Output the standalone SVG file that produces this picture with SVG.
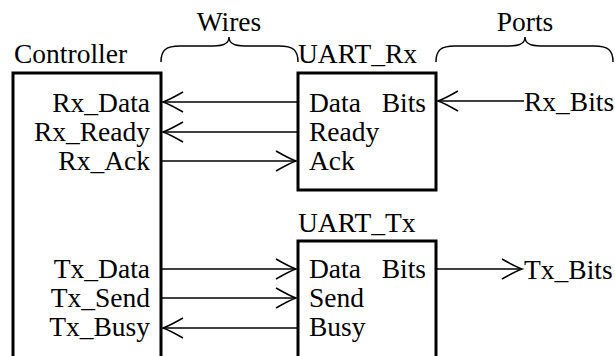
<svg xmlns="http://www.w3.org/2000/svg" width="615" height="356" viewBox="0 0 615 356">
<style>
text{font-family:"Liberation Serif","Times New Roman",serif;font-size:27.5px;fill:#000}
.end{text-anchor:end}
.mid{text-anchor:middle}
.box{fill:#fff;stroke:#000;stroke-width:3}
.wire{stroke:#000;stroke-width:1.5;fill:none}
.brace{stroke:#000;stroke-width:1.5;fill:none}
</style>
<defs>
<marker id="to" markerUnits="userSpaceOnUse" orient="auto" refX="0" refY="0" markerWidth="30" markerHeight="30" overflow="visible">
<path d="M-20,-10 Q-6,-2 0,0 Q-6,2 -20,10" fill="none" stroke="#000" stroke-width="1.5"/>
</marker>
</defs>
<g id="braces">
<path class="brace" d="M161,62 C161,50 166,46 180,46 L213,46 C225,46 229,43 229,37 C229,43 233,46 245,46 L279,46 C293,46 298,50 298,62"/>
<text class="mid" x="229" y="31">Wires</text>
<path class="brace" d="M436,62 C436,50 441,46 455,46 L509,46 C521,46 525,43 525,37 C525,43 529,46 541,46 L594,46 C608,46 613,50 613,62"/>
<text class="mid" x="525" y="31">Ports</text>
</g>
<g id="controller">
<rect class="box" x="13" y="73" width="148" height="300"/>
<text x="14" y="63">Controller</text>
<text class="end" x="150" y="112">Rx_Data</text>
<text class="end" x="150" y="141">Rx_Ready</text>
<text class="end" x="150" y="170">Rx_Ack</text>
<text class="end" x="150" y="278">Tx_Data</text>
<text class="end" x="150" y="307">Tx_Send</text>
<text class="end" x="150" y="336">Tx_Busy</text>
</g>
<g id="uart_rx">
<rect class="box" x="298" y="73" width="138" height="117"/>
<text x="298" y="63">UART_Rx</text>
<text x="309" y="112">Data</text>
<text class="end" x="426" y="112">Bits</text>
<text x="309" y="141">Ready</text>
<text x="309" y="170">Ack</text>
</g>
<g id="uart_tx">
<rect class="box" x="298" y="241" width="138" height="140"/>
<text x="298" y="232">UART_Tx</text>
<text x="309" y="278">Data</text>
<text class="end" x="426" y="278">Bits</text>
<text x="309" y="307">Send</text>
<text x="309" y="336">Busy</text>
</g>
<g id="ports">
<text x="524" y="111">Rx_Bits</text>
<text x="524" y="279">Tx_Bits</text>
</g>
<g id="connectors">
<path class="wire" d="M297,102 H163" marker-end="url(#to)"/>
<path class="wire" d="M297,132 H163" marker-end="url(#to)"/>
<path class="wire" d="M162,161 H296" marker-end="url(#to)"/>
<path class="wire" d="M162,269 H296" marker-end="url(#to)"/>
<path class="wire" d="M162,298 H296" marker-end="url(#to)"/>
<path class="wire" d="M297,328 H163" marker-end="url(#to)"/>
<path class="wire" d="M524,101 H438" marker-end="url(#to)"/>
<path class="wire" d="M437,269 H522" marker-end="url(#to)"/>
</g>
</svg>
